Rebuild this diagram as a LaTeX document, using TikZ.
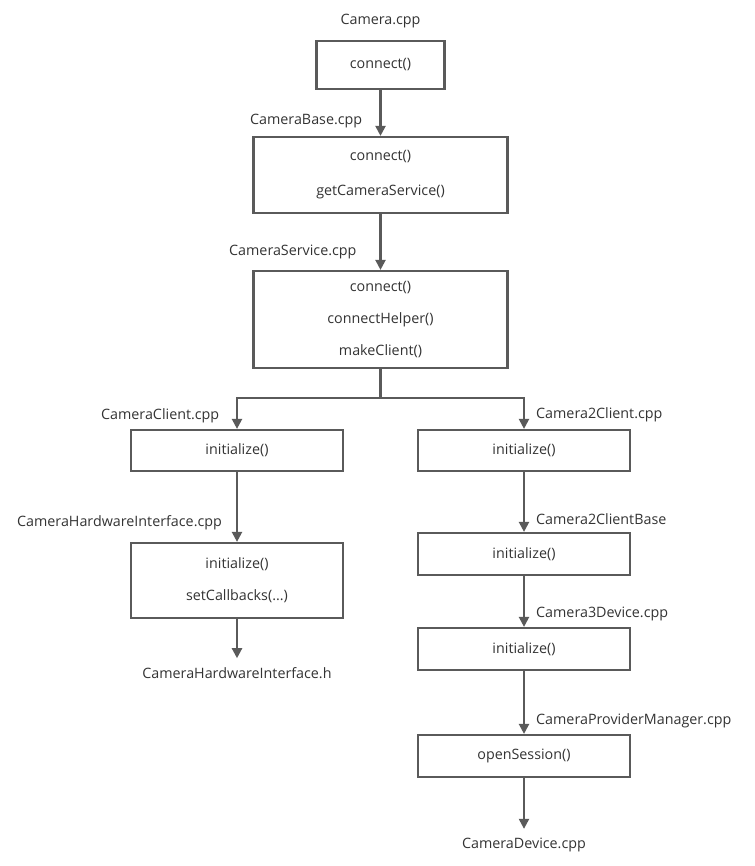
\documentclass[tikz,border=0pt]{standalone}
\usepackage{fontspec}
\setmainfont{Open Sans}
\usetikzlibrary{arrows.meta}
\definecolor{linec}{HTML}{5A5A5A}
\definecolor{txtc}{HTML}{333333}
\begin{document}
\begin{tikzpicture}[x=1pt,y=-1pt,
  box/.style={draw=linec, line width=2.2pt, fill=white, inner sep=0pt, text=txtc,
    font=\fontsize{14.3}{32}\selectfont, align=center},
  lbl/.style={text=txtc, font=\fontsize{14.3}{16}\selectfont, inner sep=0pt},
  conn/.style={draw=linec, line width=2.2pt},
  arr/.style={conn, -{Triangle[length=10pt,width=10pt]}}]
\useasboundingbox (0,0) rectangle (754,866);
% boxes
\node[box, minimum width=128pt, minimum height=48pt] (cam) at (380.5,65) {connect()};
\node[box, minimum width=254pt, minimum height=76pt, font=\fontsize{14.3}{35}\selectfont] (base) at (380.5,175) {connect()\\getCameraService()};
\node[box, minimum width=254pt, minimum height=97pt] (svc) at (380.5,319.5) {connect()\\connectHelper()\\makeClient()};
\node[box, minimum width=212pt, minimum height=41pt] (cc) at (237,450.5) {initialize()};
\node[box, minimum width=212pt, minimum height=41pt] (c2c) at (524,450.5) {initialize()};
\node[box, minimum width=212pt, minimum height=75pt] (chi) at (237,580.5) {initialize()\\setCallbacks(...)};
\node[box, minimum width=212pt, minimum height=42pt] (c2cb) at (524,554) {initialize()};
\node[box, minimum width=212pt, minimum height=42pt] (c3d) at (524,649) {initialize()};
\node[box, minimum width=212pt, minimum height=42pt] (cpm) at (524,756) {openSession()};
% labels
\node[lbl] (lcam) at (380.5,21) {Camera.cpp};
\node[lbl, anchor=west] (lbase) at (250,121) {CameraBase.cpp};
\node[lbl, anchor=west] (lsvc) at (229,252) {CameraService.cpp};
\node[lbl, anchor=west] (lcc) at (101,416) {CameraClient.cpp};
\node[lbl, anchor=west] (lc2c) at (536,415) {Camera2Client.cpp};
\node[lbl, anchor=west] (lchi) at (17,523) {CameraHardwareInterface.cpp};
\node[lbl] (chih) at (237,673) {CameraHardwareInterface.h};
\node[lbl, anchor=west] (lc2cb) at (536,519) {Camera2ClientBase};
\node[lbl, anchor=west] (lc3d) at (536,614) {Camera3Device.cpp};
\node[lbl, anchor=west] (lcpm) at (536,721) {CameraProviderManager.cpp};
\node[lbl] (cdev) at (524,845) {CameraDevice.cpp};
% connectors
\draw[arr] (cam) -- (base);
\draw[arr] (base) -- (svc);
\coordinate (split) at (380.5,398);
\draw[conn] (svc.south) -- (split);
\draw[arr] (split) -| (cc.north);
\draw[arr] (split) -| (c2c.north);
\draw[arr] (cc) -- (chi);
\draw[arr, shorten >=9pt] (chi.south) -- (chih.north);
\draw[arr] (c2c) -- (c2cb);
\draw[arr] (c2cb) -- (c3d);
\draw[arr] (c3d) -- (cpm);
\draw[arr, shorten >=9pt] (cpm.south) -- (cdev.north);
\end{tikzpicture}
\end{document}
